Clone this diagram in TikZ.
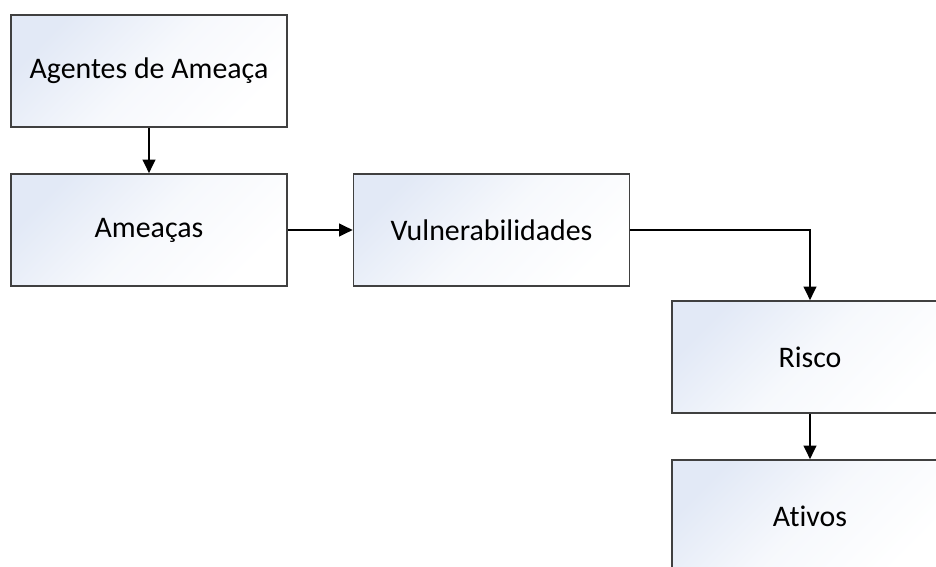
\documentclass[tikz,border=0pt]{standalone}
\usepackage{fontspec}
\setmainfont[Ligatures=NoCommon]{Carlito}
\usetikzlibrary{arrows.meta}
\definecolor{boxblue}{RGB}{226,233,246}
\definecolor{boxline}{RGB}{64,64,64}
\tikzset{
	riskbox/.style={draw=boxline,line width=0.9pt,minimum width=5.52cm,minimum height=2.24cm,inner sep=0pt,top color=boxblue,bottom color=white,middle color=white!70!boxblue,shading angle=45,font=\fontsize{17}{20}\selectfont},
	link/.style={line width=1.2pt,->,>={Triangle[length=0.27cm,width=0.25cm]}}
}
\begin{document}
\begin{tikzpicture}
	\useasboundingbox (0,0) rectangle (18.72,11.34);
	\clip (0,0) rectangle (18.72,11.34);
	%BOXES
	\node[riskbox] (agentes) at (2.98,9.92) {Agentes de Ameaça};
	\node[riskbox] (ameacas) at (2.98,6.74) {Ameaças};
	\node[riskbox] (vuln) at (9.83,6.74) {Vulnerabilidades};
	\node[riskbox] (risco) at (16.2,4.2) {Risco};
	\node[riskbox] (ativos) at (16.2,1.02) {Ativos};
	
	%ARROWS
	\draw[link] (agentes)--(ameacas);
	\draw[link] (ameacas)--(vuln);
	\draw[link] (vuln.east) -| (risco.north);
	\draw[link] (risco)--(ativos);
\end{tikzpicture}
\end{document}
